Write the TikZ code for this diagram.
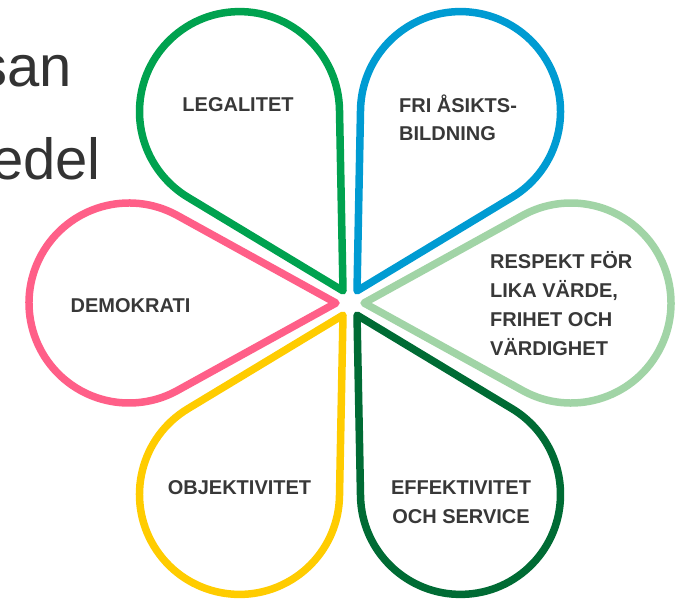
\documentclass[tikz,border=0pt]{standalone}
\usepackage{fontspec}
\setmainfont{Liberation Sans}
\usetikzlibrary{calc}
\definecolor{pgreen}{HTML}{00A24F}
\definecolor{pblue}{HTML}{009BD2}
\definecolor{plight}{HTML}{A1D4A6}
\definecolor{pdark}{HTML}{006B34}
\definecolor{pyellow}{HTML}{FFCC00}
\definecolor{ppink}{HTML}{FF5F88}
\definecolor{txt}{HTML}{383838}
\definecolor{bigtxt}{HTML}{333333}
\newcommand\petaltext[3]{{\fontsize{20}{#1}\selectfont\begin{tabular}[t]{@{}#2@{}}#3\end{tabular}}}
\tikzset{
  petal/.style={line width=7.5pt, line join=round},
  lbl/.style={inner sep=0pt, text=txt, font=\fontsize{20}{24}\selectfont\bfseries},
  big/.style={inner sep=0pt, text=bigtxt, font=\fontsize{58}{66}\selectfont}
}
\begin{document}
\begin{tikzpicture}[x=1pt,y=1pt]
\useasboundingbox (0,0) rectangle (679,600);
\clip (0,0) rectangle (679,600);
\coordinate (C) at (350,297);
\foreach \a/\c in {120/pgreen,60/pblue,0/plight,-60/pdark,240/pyellow,180/ppink}{
  \draw[petal,draw=\c] ($(C)+(\a:14pt)$) -- ($(C)+(\a:221pt)+(\a-118.9:100pt)$)
    arc[start angle=\a-118.9, end angle=\a+118.9, radius=100pt] -- cycle;
}
\node[lbl, anchor=base] (legal) at (238,488) {LEGALITET};
\node[lbl, anchor=base] (demo) at (130.5,287) {DEMOKRATI};
\node[lbl, anchor=base] (objekt) at (239.5,106) {OBJEKTIVITET};
\node[lbl, anchor=base west] (fri) at (399,487) {\petaltext{27.3}{l}{FRI ÅSIKTS-\\BILDNING}};
\node[lbl, anchor=base west] (resp) at (490,331) {\petaltext{28.7}{l}{RESPEKT FÖR\\LIKA VÄRDE,\\FRIHET OCH\\VÄRDIGHET}};
\node[lbl, anchor=base] (effekt) at (461,106) {\petaltext{29.7}{c}{EFFEKTIVITET\\OCH SERVICE}};
\node[big, anchor=base east] (san) at (72,513) {san};
\node[big, anchor=base east] (edel) at (101,420) {edel};
\end{tikzpicture}
\end{document}
